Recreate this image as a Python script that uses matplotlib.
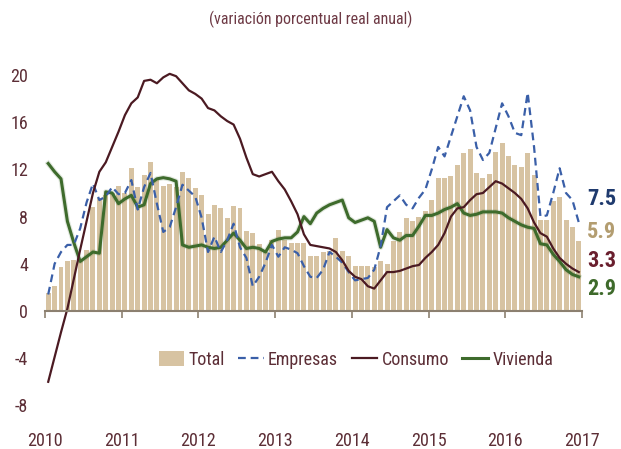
"""Credito bancario: variacion porcentual real anual, 2010-2016."""

import numpy as np
import matplotlib
matplotlib.use('Agg')
import matplotlib.pyplot as plt
from matplotlib import font_manager as fm

# monthly data, Jan 2010 .. Dec 2016
total = [1.5, 2.1, 3.7, 4.2, 4.3, 4.4, 5.2, 8.8, 9.6, 9.8, 10.0, 10.6,
         10.0, 12.1, 10.5, 11.5, 12.6, 11.2, 10.6, 10.8, 10.5, 11.8, 11.3, 10.4,
         9.8, 8.2, 9.0, 8.7, 7.9, 8.9, 8.7, 6.8, 6.6, 5.7, 5.0, 6.0,
         6.9, 6.0, 5.8, 5.8, 5.8, 4.7, 4.7, 5.0, 5.1, 6.2, 5.1, 4.7,
         3.8, 3.8, 3.8, 3.7, 4.2, 4.0, 5.9, 6.7, 7.9, 7.6, 8.0, 8.5,
         9.4, 11.3, 11.3, 11.4, 12.4, 13.4, 13.7, 11.7, 11.3, 11.6, 13.5, 14.2,
         13.1, 12.4, 12.2, 13.4, 11.5, 7.7, 7.7, 9.3, 9.7, 7.7, 7.1, 5.9]

empresas = [1.4, 4.0, 5.0, 5.6, 5.6, 7.0, 9.2, 10.8, 9.4, 9.7, 10.5, 9.9,
            10.0, 11.1, 8.6, 10.5, 11.7, 9.1, 6.7, 7.1, 8.8, 10.7, 10.2, 9.7,
            7.9, 5.0, 6.3, 5.0, 6.0, 7.4, 5.4, 4.5, 2.1, 2.9, 4.1, 5.6,
            4.6, 5.4, 5.2, 4.9, 3.8, 2.9, 2.8, 3.5, 5.0, 4.6, 4.1, 3.3,
            2.6, 2.7, 2.8, 3.5, 5.5, 8.8, 9.3, 9.8, 9.0, 8.7, 9.6, 10.3,
            12.0, 13.9, 13.1, 14.8, 16.5, 18.2, 17.0, 13.9, 12.8, 13.4, 15.5, 17.6,
            16.5, 15.1, 14.9, 18.5, 13.9, 8.0, 8.1, 10.0, 12.1, 10.0, 9.4, 7.5]

consumo = [-6.0, -3.9, -1.8, 0.2, 2.7, 5.2, 7.6, 10.0, 11.8, 12.6, 13.9, 15.2,
           16.6, 17.6, 18.1, 19.5, 19.6, 19.3, 19.8, 20.1, 19.9, 19.3, 18.7, 18.4,
           18.0, 17.2, 17.0, 16.5, 16.1, 15.8, 14.6, 13.0, 11.6, 11.4, 11.6, 11.8,
           11.0, 10.3, 9.3, 8.2, 6.5, 5.6, 5.5, 5.4, 5.3, 5.0, 4.3, 3.4,
           2.9, 2.7, 2.1, 1.9, 2.6, 3.3, 3.3, 3.4, 3.6, 3.8, 3.9, 4.5,
           5.0, 5.6, 6.6, 8.0, 8.7, 8.8, 9.4, 9.9, 10.0, 10.5, 11.0, 10.8,
           10.4, 10.0, 9.5, 8.7, 7.5, 6.6, 6.3, 5.3, 4.5, 4.0, 3.6, 3.3]

vivienda = [12.5, 11.8, 11.2, 7.6, 5.8, 4.2, 4.6, 5.0, 4.9, 10.1, 10.0, 9.1,
            9.5, 9.8, 8.8, 9.0, 10.8, 11.2, 11.3, 11.2, 11.0, 5.6, 5.4, 5.5,
            5.6, 5.4, 5.3, 5.4, 6.0, 6.6, 6.0, 5.3, 5.4, 5.3, 5.0, 5.9,
            6.1, 6.2, 6.2, 6.7, 8.0, 7.4, 8.3, 8.7, 9.0, 9.2, 9.4, 7.9,
            7.5, 7.7, 7.9, 7.6, 5.4, 6.9, 6.2, 6.0, 6.4, 6.4, 7.2, 8.1,
            8.1, 8.3, 8.6, 8.8, 9.1, 8.3, 8.1, 8.2, 8.4, 8.4, 8.4, 8.3,
            7.9, 7.6, 7.3, 7.1, 7.0, 5.7, 5.6, 4.8, 4.2, 3.5, 3.1, 2.9]

years = list(range(2010, 2018))
yticks = [-8, -4, 0, 4, 8, 12, 16, 20]

# pick a narrow font if one is there
names = {f.name for f in fm.fontManager.ttflist}
fam = 'DejaVu Sans'
for n in ['Liberation Sans Narrow', 'Roboto Condensed', 'Open Sans Condensed', 'Liberation Sans']:
    if n in names:
        fam = n
        break
plt.rcParams['font.family'] = [fam, 'DejaVu Sans']

txt = '#5c2e36'
c_total = '#d7c3a2'
c_emp = '#3a5fa8'
c_con = '#4b1a22'
c_viv = '#3e6b2c'

x = 2010 + (np.arange(len(total)) + 0.5)/12.0

fig = plt.figure(figsize=(6.21, 4.49), dpi=100)
ax = fig.add_axes([0.0725, 0.0971, 0.8647, 0.7884])

hb = ax.bar(x, total, width=1/12.0*0.78, color=c_total, label='Total', zorder=1)
he, = ax.plot(x, empresas, '--', color=c_emp, lw=1.6, dashes=(3.5, 2.2), label='Empresas', zorder=3)
hc, = ax.plot(x, consumo, '-', color=c_con, lw=1.6, label='Consumo', zorder=4)
ax.plot(x, vivienda, '-', color=c_viv, lw=3.8, alpha=0.15, zorder=2)
hv, = ax.plot(x, vivienda, '-', color=c_viv, lw=2.2, label='Vivienda', zorder=2)

ax.set_xlim(2010, 2017)
ax.set_ylim(-8, 22)

for s in ['left', 'right', 'top']:
    ax.spines[s].set_visible(False)
ax.spines['bottom'].set_position(('data', 0))
ax.spines['bottom'].set_color('#8c8070')
ax.spines['bottom'].set_linewidth(1.5)
ax.spines['bottom'].set_zorder(5)

ax.set_xticks(years)
ax.set_xticklabels([str(y) for y in years])
ax.tick_params(axis='x', direction='out', length=5, width=1.2, color='#8c8070',
               labelsize=13, labelcolor=txt, pad=82)
ax.set_yticks(yticks)
ax.set_yticklabels([str(v) for v in yticks])
ax.tick_params(axis='y', length=0, labelsize=13, labelcolor=txt, pad=12)

# end-of-series labels
ends = [(empresas[-1], 9.5, '#1f3a6e'),
        (total[-1], 6.7, '#b39d70'),
        (consumo[-1], 4.2, '#6a1f2e'),
        (vivienda[-1], 1.9, '#3e6a2b')]
for v, ypos, col in ends:
    ax.text(2017.07, ypos, '%.1f' % v, color=col, fontsize=16, fontweight='bold',
            va='center', ha='left', clip_on=False)

fig.legend([hb, he, hc, hv], ['Total', 'Empresas', 'Consumo', 'Vivienda'],
           loc='center', bbox_to_anchor=(0.573, 0.198), ncol=4, frameon=False,
           fontsize=13, labelcolor=txt, handlelength=1.4, handleheight=0.9,
           handletextpad=0.25, columnspacing=0.75)

fig.text(0.5, 1 - 19/449.0, '(variación porcentual real anual)', ha='center',
         va='center', fontsize=11.5, color='#6e3a45')

plt.savefig('out.png', format='png')
